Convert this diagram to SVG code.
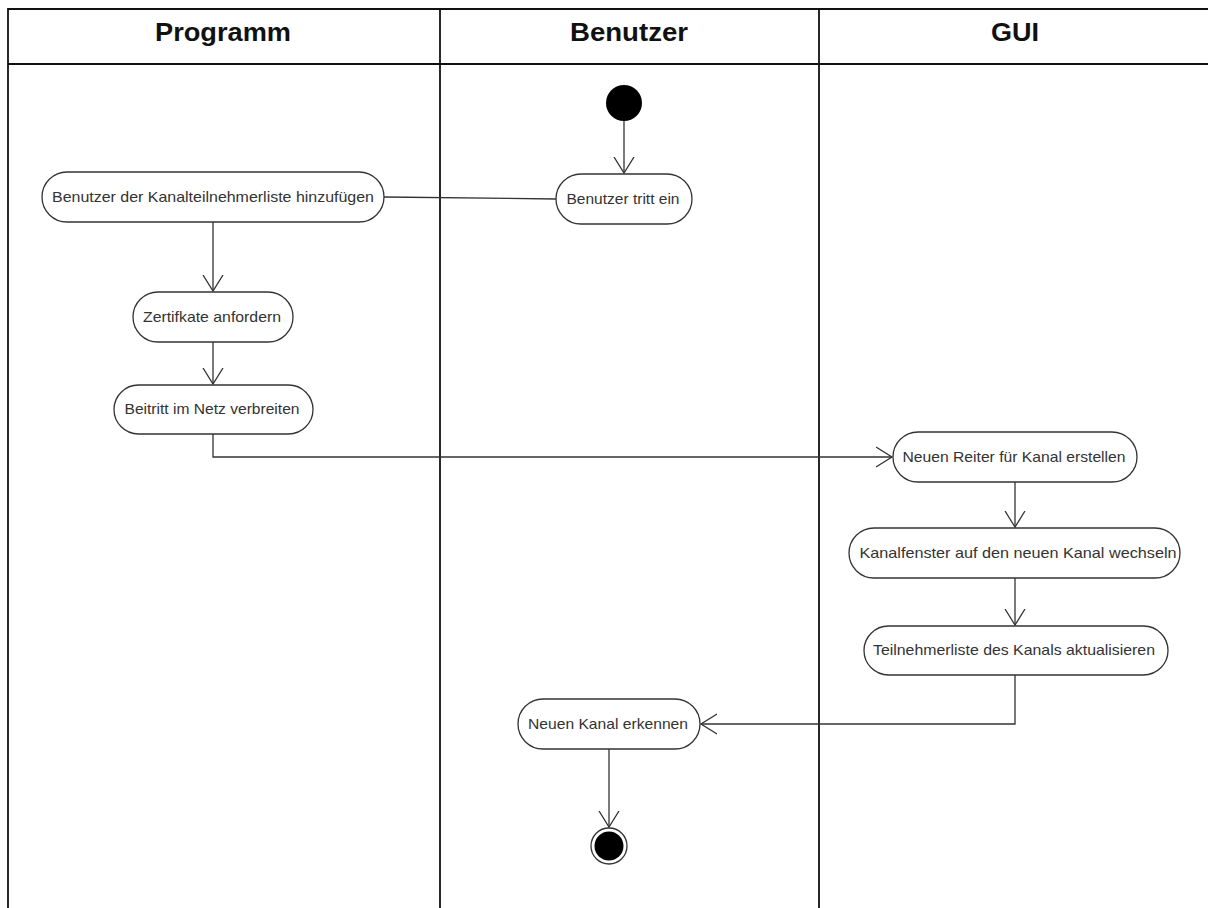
<svg xmlns="http://www.w3.org/2000/svg" width="1208" height="908" viewBox="0 0 1208 908">
<style>
.lane{stroke:#111;stroke-width:1.8;fill:none}
.hdr{font-family:"Liberation Sans",Arial,sans-serif;font-weight:bold;font-size:25px;fill:#111;text-anchor:middle}
.act{fill:#fff;stroke:#333;stroke-width:1.3}
.lbl{font-family:"Liberation Sans",Arial,sans-serif;font-size:14.5px;fill:#333;text-anchor:middle}
.con{fill:none;stroke:#333;stroke-width:1.3}
</style>
<defs>
<marker id="arr" markerWidth="18" markerHeight="22" refX="16" refY="11" orient="auto" markerUnits="userSpaceOnUse">
<path d="M0,1 L16,11 L0,21" fill="none" stroke="#333" stroke-width="1.3"/>
</marker>
</defs>
<rect width="1208" height="908" fill="#fff"/>
<g id="swimlanes">
<path class="lane" d="M8,908 V9 H1208 M8,64 H1208 M440,9 V908 M819,9 V908"/>
<text class="hdr" x="223" y="41" textLength="136" lengthAdjust="spacingAndGlyphs">Programm</text>
<text class="hdr" x="629" y="41" textLength="118" lengthAdjust="spacingAndGlyphs">Benutzer</text>
<text class="hdr" x="1015" y="41" textLength="48" lengthAdjust="spacingAndGlyphs">GUI</text>
</g>
<g id="connectors">
<path class="con" d="M624,121 V173" marker-end="url(#arr)"/>
<path class="con" d="M384,197 L556,199"/>
<path class="con" d="M213,222 V291" marker-end="url(#arr)"/>
<path class="con" d="M213,342 V384" marker-end="url(#arr)"/>
<path class="con" d="M213,434 V457 H892" marker-end="url(#arr)"/>
<path class="con" d="M1015,482 V527" marker-end="url(#arr)"/>
<path class="con" d="M1015,578 V625" marker-end="url(#arr)"/>
<path class="con" d="M1015,675 V724 H701" marker-end="url(#arr)"/>
<path class="con" d="M609,749 V827" marker-end="url(#arr)"/>
</g>
<g id="start"><circle cx="624" cy="103" r="18" fill="#000"/></g>
<g id="benutzer-tritt-ein"><rect class="act" x="556" y="174" width="136" height="50" rx="25"/><text class="lbl" x="623" y="204" textLength="113" lengthAdjust="spacingAndGlyphs">Benutzer tritt ein</text></g>
<g id="hinzufuegen"><rect class="act" x="42" y="172" width="342" height="50" rx="25"/><text class="lbl" x="213" y="202" textLength="322" lengthAdjust="spacingAndGlyphs">Benutzer der Kanalteilnehmerliste hinzufügen</text></g>
<g id="zertifikate"><rect class="act" x="133" y="292" width="160" height="50" rx="25"/><text class="lbl" x="212" y="322" textLength="138" lengthAdjust="spacingAndGlyphs">Zertifkate anfordern</text></g>
<g id="beitritt"><rect class="act" x="114" y="385" width="199" height="49" rx="24.5"/><text class="lbl" x="212" y="414" textLength="175" lengthAdjust="spacingAndGlyphs">Beitritt im Netz verbreiten</text></g>
<g id="reiter"><rect class="act" x="893" y="432" width="244" height="50" rx="25"/><text class="lbl" x="1014" y="462" textLength="223" lengthAdjust="spacingAndGlyphs">Neuen Reiter für Kanal erstellen</text></g>
<g id="kanalfenster"><rect class="act" x="849" y="528" width="331" height="50" rx="25"/><text class="lbl" x="1018" y="558" textLength="317" lengthAdjust="spacingAndGlyphs">Kanalfenster auf den neuen Kanal wechseln</text></g>
<g id="teilnehmerliste"><rect class="act" x="864" y="626" width="304" height="49" rx="24.5"/><text class="lbl" x="1014" y="655" textLength="282" lengthAdjust="spacingAndGlyphs">Teilnehmerliste des Kanals aktualisieren</text></g>
<g id="erkennen"><rect class="act" x="518" y="699" width="182" height="50" rx="25"/><text class="lbl" x="608" y="729" textLength="160" lengthAdjust="spacingAndGlyphs">Neuen Kanal erkennen</text></g>
<g id="end"><circle cx="609" cy="846" r="18" fill="#fff" stroke="#333" stroke-width="1.3"/><circle cx="609" cy="846" r="14.5" fill="#000"/></g>
</svg>
